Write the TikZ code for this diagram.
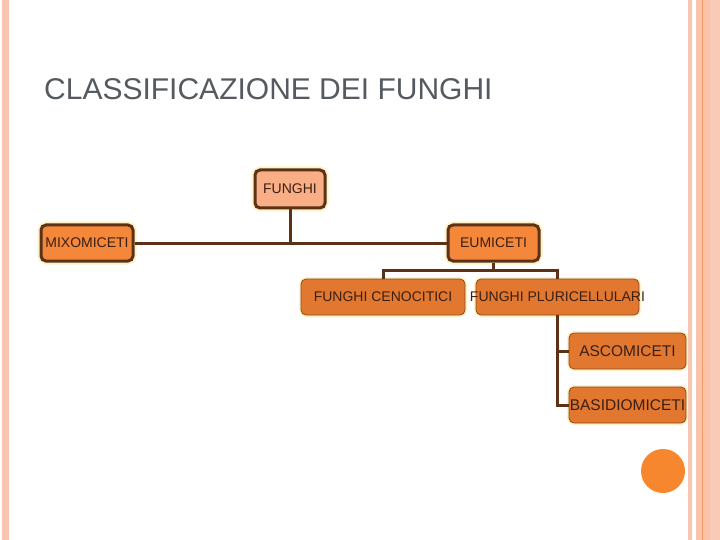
\documentclass[tikz,border=0pt]{standalone}
\usepackage{fontspec}
\setmainfont{Liberation Sans}
\usepackage{tikz}
\usetikzlibrary{positioning, calc}

\definecolor{framepink}{HTML}{F8C5AE}
\definecolor{framepeach}{HTML}{FBC4A8}
\definecolor{frameline}{HTML}{EE9E6E}
\definecolor{titlegray}{HTML}{555A60}
\definecolor{edgebrown}{HTML}{5B3218}
\definecolor{textbrown}{HTML}{3B1F14}
\definecolor{rootfill}{HTML}{F9AE85}
\definecolor{midfill}{HTML}{F4873A}
\definecolor{lowfill}{HTML}{E2782F}
\definecolor{lowedge}{HTML}{8A4A1E}
\definecolor{glowyellow}{HTML}{FFF2C6}
\definecolor{dotorange}{HTML}{F7872F}

\begin{document}
\begin{tikzpicture}[x=1pt, y=-1pt,
		box/.style={rounded corners=5pt, text=textbrown, inner sep=0pt,
			font=\fontsize{14}{16}\selectfont, minimum height=36pt},
		topbox/.style={box, draw=edgebrown, line width=3pt,
			preaction={draw=glowyellow, line width=7pt}},
		subbox/.style={box, draw=lowedge, line width=0.8pt, fill=lowfill,
			preaction={draw=glowyellow, line width=4pt}},
		leafbox/.style={subbox, font=\fontsize{15.5}{17}\selectfont},
		link/.style={draw=edgebrown, line width=3pt}]
	
	\useasboundingbox (0,0) rectangle (720,540);
	
	% Slide frame
	\fill[framepink] (2,0) rectangle (9,540);
	\fill[framepink] (688,0) rectangle (692,540);
	\fill[framepeach] (696,0) rectangle (710,540);
	\fill[framepink!90!white] (710,0) rectangle (720,540);
	\draw[frameline, line width=0.8pt] (702.5,0) -- (702.5,540);
	
	% Title
	\node[anchor=base west, inner sep=0pt, text=titlegray,
		font=\fontsize{30}{32}\selectfont] (title) at (44,100)
		{CLASSIFICAZIONE DEI FUNGHI};
	
	% Tree
	\node[topbox, fill=rootfill, minimum width=70pt, minimum height=38pt] (funghi) at (290,189) {FUNGHI};
	\node[topbox, fill=midfill, minimum width=92pt] (mixo) at (87,243) {MIXOMICETI};
	\node[topbox, fill=midfill, minimum width=91pt] (eumi) at (493.5,243) {EUMICETI};
	\node[subbox, minimum width=164pt] (ceno) at (383,297) {FUNGHI CENOCITICI};
	\node[subbox, minimum width=163pt] (pluri) at (557.5,297) {\makebox[160pt]{FUNGHI PLURICELLULARI}};
	\node[leafbox, minimum width=117pt] (asco) at (627.5,351) {ASCOMICETI};
	\node[leafbox, minimum width=117pt] (basi) at (627.5,405) {\makebox[114pt]{BASIDIOMICETI}};
	
	% Connectors
	\coordinate (split) at (493.5,270);
	\draw[link] (funghi.south) -- (funghi.south |- mixo.east);
	\draw[link] (mixo.east) -- (eumi.west);
	\draw[link] (eumi.south) -- (split);
	\draw[link] (ceno.north) |- (split) -| (pluri.north);
	\foreach \leaf in {asco, basi} {
		\draw[link] (pluri.south) |- (\leaf.west);
	}
	
	% Decoration dot
	\fill[dotorange] (663,471) circle (22pt);
	
\end{tikzpicture}
\end{document}
